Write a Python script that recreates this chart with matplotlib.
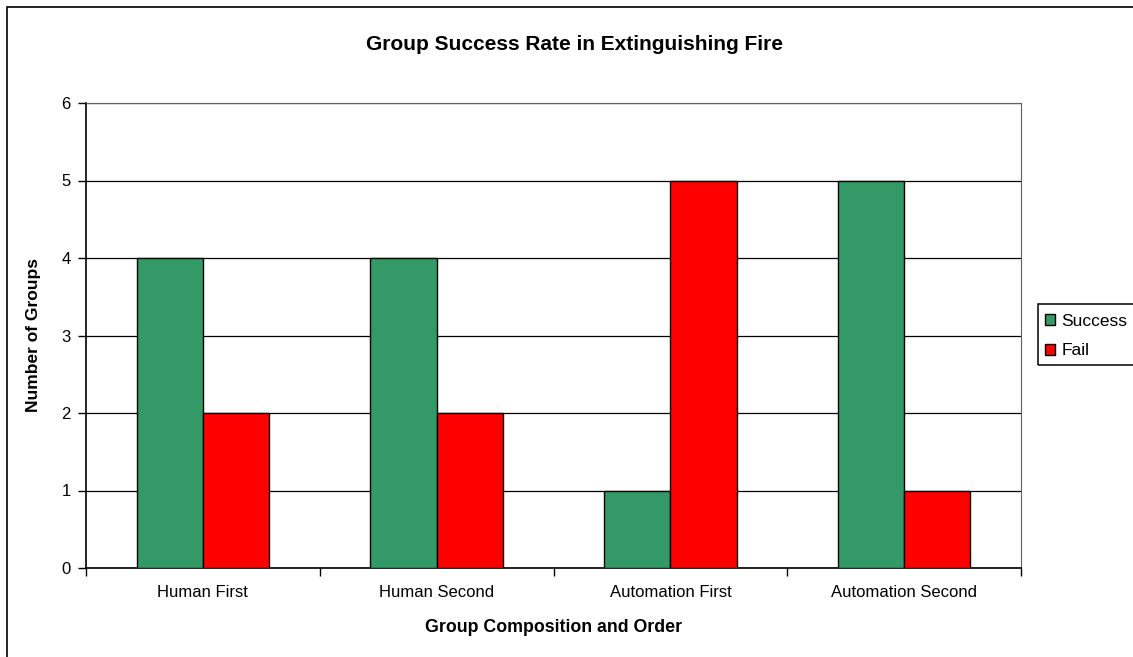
import numpy as np
import matplotlib.pyplot as plt
from matplotlib.patches import Rectangle

plt.rcParams['font.family'] = ['Liberation Sans', 'DejaVu Sans']

categories = ["Human First", "Human Second", "Automation First", "Automation Second"]
success = [4, 4, 1, 5]
fail = [2, 2, 5, 1]
yticks = [0, 1, 2, 3, 4, 5, 6]

W, H = 1133, 657
fig = plt.figure(figsize=(W / 100, H / 100), dpi=100)
ax = fig.add_axes([86 / W, 1 - 568 / H, (1021 - 86) / W, (568 - 103) / H])

# outer chart border (runs off the right and bottom edges)
fig.patches.append(Rectangle((7 / W, -0.1), 1.2, 1 - 7 / H + 0.1,
                             transform=fig.transFigure, fill=False,
                             edgecolor="black", linewidth=1.2))
# legend box, also clipped by the right edge
fig.patches.append(Rectangle((1038 / W, 1 - 365 / H), 0.2, 61 / H,
                             transform=fig.transFigure, fill=False,
                             edgecolor="black", linewidth=1.1))

x = np.arange(len(categories)) + 0.5
w = 0.283
ax.bar(x - w / 2, success, w, color="#339966", edgecolor="black", linewidth=1, label="Success", zorder=3)
ax.bar(x + w / 2, fail, w, color="#ff0000", edgecolor="black", linewidth=1, label="Fail", zorder=3)

ax.set_xlim(0, len(categories))
ax.set_ylim(0, 6)
ax.set_yticks(yticks)
ax.set_xticks(np.arange(len(categories) + 1))
ax.set_xticklabels([])
ax.set_xticks(x, minor=True)
ax.set_xticklabels(categories, minor=True, fontsize=12)
ax.tick_params(axis="x", which="minor", length=0, pad=12)
ax.tick_params(axis="x", which="major", length=6, direction="out", width=1)
ax.tick_params(axis="y", length=6, direction="out", width=1, labelsize=12, pad=5)
ax.yaxis.grid(True, color="black", linewidth=0.9, zorder=0)

for s in ["top", "right"]:
    ax.spines[s].set_color("#606060")
for s in ["left", "bottom"]:
    ax.spines[s].set_color("black")
    ax.spines[s].set_linewidth(1.2)

ax.set_xlabel("Group Composition and Order", fontsize=12.8, fontweight="bold", labelpad=14)
ax.set_ylabel("Number of Groups", fontsize=12.5, fontweight="bold", labelpad=15)
fig.text(574 / W, 1 - 45 / H, "Group Success Rate in Extinguishing Fire",
         ha="center", va="center", fontsize=15, fontweight="bold")

leg = ax.legend(loc="center left", bbox_to_anchor=(1045 / W, 1 - 336 / H),
                bbox_transform=fig.transFigure, fontsize=12.5, frameon=False,
                handlelength=0.6, handleheight=0.6, handletextpad=0.35,
                borderpad=0, labelspacing=0.85, borderaxespad=0)

fig.savefig("out.png", dpi=100)
